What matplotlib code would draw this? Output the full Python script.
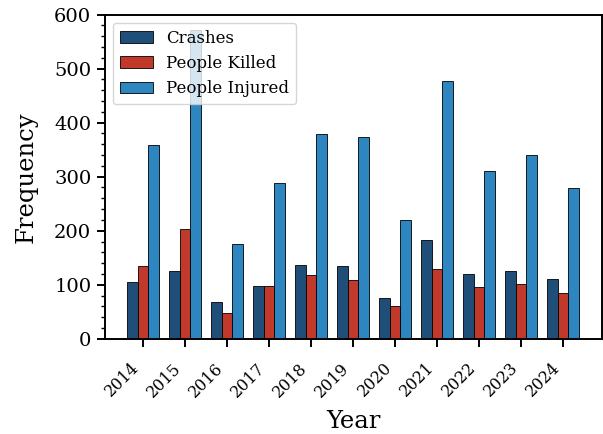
import matplotlib
matplotlib.use("Agg")
import matplotlib.pyplot as plt
import numpy as np
from matplotlib.ticker import AutoMinorLocator

years = ["2014", "2015", "2016", "2017", "2018", "2019",
         "2020", "2021", "2022", "2023", "2024"]
crashes = [105, 125, 68, 98, 136, 135, 75, 183, 120, 125, 110]
killed = [135, 203, 47, 98, 118, 108, 60, 130, 95, 101, 85]
injured = [359, 571, 175, 288, 379, 373, 219, 478, 310, 340, 279]

plt.rcParams["font.family"] = ["DejaVu Serif"]

fig = plt.figure(figsize=(6.03, 4.34), dpi=100)
ax = fig.add_axes([104.5 / 603, 1 - 338.7 / 434, 497 / 603, 324 / 434])

x = np.arange(len(years))
w = 0.25
ax.bar(x - w, crashes, w, color="#1f4e79", edgecolor="black", linewidth=0.6, label="Crashes")
ax.bar(x, killed, w, color="#c0392b", edgecolor="black", linewidth=0.6, label="People Killed")
ax.bar(x + w, injured, w, color="#2e86c1", edgecolor="black", linewidth=0.6, label="People Injured")

ax.set_ylim(0, 600)
ax.set_xticks(x)
ax.set_xticklabels(years, rotation=45, ha="right", fontsize=11.5)
ax.yaxis.set_minor_locator(AutoMinorLocator(5))
ax.tick_params(axis="y", which="major", labelsize=14, length=6, width=1.4)
ax.tick_params(axis="y", which="minor", length=3, width=1.0)
ax.tick_params(axis="x", which="major", length=6, width=1.4, pad=9)
for s in ax.spines.values():
    s.set_linewidth(1.4)

ax.set_xlabel("Year", fontsize=17.5, labelpad=7)
ax.set_ylabel("Frequency", fontsize=17.5, labelpad=12)
ax.legend(loc="upper left", fontsize=12)

fig.savefig("out.png", dpi=100)
